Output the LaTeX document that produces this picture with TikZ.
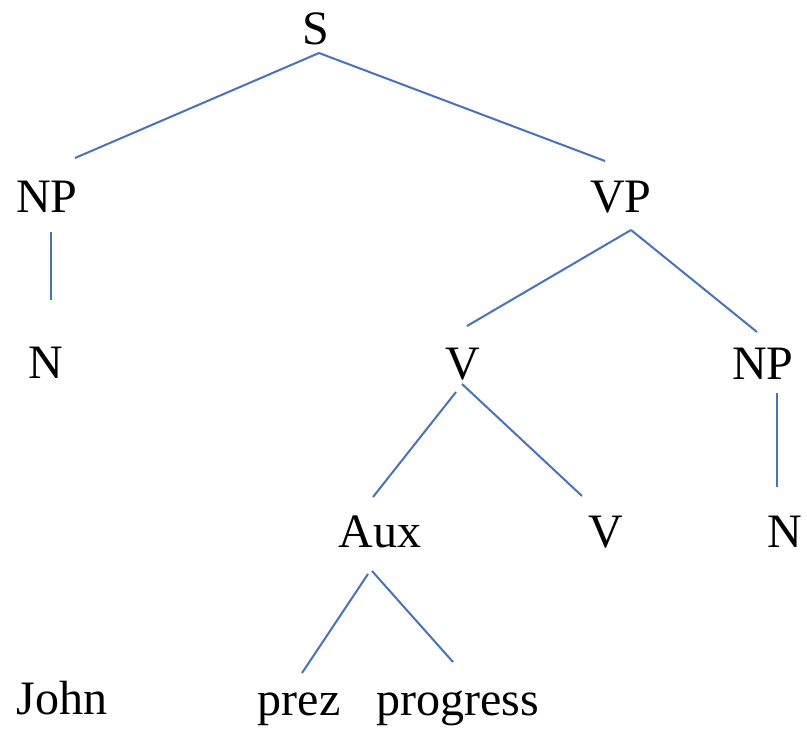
\documentclass[tikz,border=0pt]{standalone}
\usepackage{fontspec}
\setmainfont{Liberation Serif}
\usepackage{xcolor}
\usepackage{tikz}
\definecolor{branchblue}{HTML}{4472C4}

\begin{document}
\begin{tikzpicture}[x=1pt,y=-1pt,
  cat/.style={anchor=base,inner sep=0pt,font=\fontsize{48}{56}\selectfont},
  branch/.style={draw=branchblue,line width=2pt}]
  \useasboundingbox (0,0) rectangle (807,730);
  % categories
  \node[cat] (s) at (316,45) {S};
  \node[cat] (np1) at (47,213) {NP};
  \node[cat] (vp) at (621,213) {VP};
  \node[cat] (n1) at (46,379) {N};
  \node[cat] (v1) at (463,380) {V};
  \node[cat] (np2) at (763,380) {NP};
  \node[cat] (aux) at (380,547) {Aux};
  \node[cat] (v2) at (606,547) {V};
  \node[cat] (n2) at (785,547) {N};
  % words
  \node[cat] (john) at (62,714) {John};
  \node[cat] (prez) at (299,715) {prez};
  \node[cat] (prog) at (458,715) {progress};
  % branch ends
  \coordinate (s-foot) at (319,53);
  \coordinate (np1-head) at (75,158);
  \coordinate (vp-head) at (605,161);
  \coordinate (np1-foot) at (51,232);
  \coordinate (n1-head) at (51,300);
  \coordinate (vp-foot) at (631,230);
  \coordinate (v1-head) at (467,326);
  \coordinate (np2-head) at (757,332);
  \coordinate (v1-footl) at (456,392);
  \coordinate (v1-footr) at (462,384);
  \coordinate (aux-head) at (373,497);
  \coordinate (v2-head) at (582,496);
  \coordinate (np2-foot) at (777,393);
  \coordinate (n2-head) at (777,487);
  \coordinate (aux-footl) at (368,574);
  \coordinate (aux-footr) at (372,571);
  \coordinate (prez-head) at (302,673);
  \coordinate (prog-head) at (453,662);
  % branches
  \draw[branch] (s-foot) -- (np1-head) (s-foot) -- (vp-head);
  \draw[branch] (np1-foot) -- (n1-head);
  \draw[branch] (vp-foot) -- (v1-head) (vp-foot) -- (np2-head);
  \draw[branch] (v1-footl) -- (aux-head) (v1-footr) -- (v2-head);
  \draw[branch] (np2-foot) -- (n2-head);
  \draw[branch] (aux-footl) -- (prez-head) (aux-footr) -- (prog-head);
\end{tikzpicture}
\end{document}
